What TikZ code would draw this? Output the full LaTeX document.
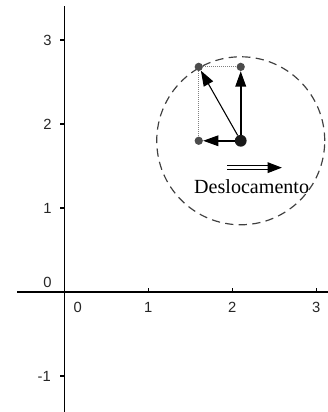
\documentclass[tikz,border=0pt]{standalone}
\usepackage{fontspec}
\setmainfont{Liberation Serif}
\setsansfont{Liberation Sans}
\usetikzlibrary{arrows.meta,positioning,calc}

\begin{document}
\begin{tikzpicture}[
    x=2.5cm, y=2.5cm,
    axis/.style={line width=1pt, black},
    tick/.style={font=\sffamily\fontsize{12.5}{14}\selectfont, inner sep=0pt, text=black!85},
    bigdot/.style={circle, fill=black!90, inner sep=0pt, minimum size=10pt},
    dot/.style={circle, fill=black!70, inner sep=0pt, minimum size=7pt},
    vec/.style={-{Triangle[length=13pt,width=9pt]}, line width=1.3pt},
    aux/.style={densely dotted, gray, line width=0.7pt},
    label/.style={font=\fontsize{17}{19}\selectfont, inner sep=0pt}
]
\useasboundingbox (-0.766,-1.429) rectangle (3.138,3.476);

% Axes
\draw[axis] (-0.56,0) -- (3.14,0);
\draw[axis] (0,-1.43) -- (0,3.40);

% Ticks
\draw[axis] (1,0) -- (1,0.05);
\draw[axis] (2,0) -- (2,0.05);
\draw[axis] (3,0) -- (3,0.05);
\draw[axis] (0,1) -- (-0.05,1);
\draw[axis] (0,2) -- (-0.05,2);
\draw[axis] (0,3) -- (-0.05,3);
\draw[axis] (0,-1) -- (-0.05,-1);

% Tick labels
\node[tick] (x0) at (0.16,-0.18) {0};
\node[tick] (x1) at (1.0,-0.18) {1};
\node[tick] (x2) at (2.0,-0.18) {2};
\node[tick] (x3) at (3.0,-0.18) {3};
\node[tick] (y0) at (-0.2,0.11) {0};
\node[tick] (y1) at (-0.2,1) {1};
\node[tick] (y2) at (-0.2,2) {2};
\node[tick] (y3) at (-0.2,3) {3};
\node[tick] (ym1) at (-0.24,-1) {-1};

% Circle of reach
\draw[dashed, dash pattern=on 7pt off 4.5pt, line width=1pt, black!75] (2.1,1.8) circle (1);

% Points
\node[bigdot] (p) at (2.1,1.8) {};
\node[dot] (left) at (1.6,1.8) {};
\node[dot] (up) at (2.1,2.68) {};
\node[dot] (diag) at (1.6,2.68) {};

% Components
\draw[aux] (diag) -- (up);
\draw[aux] (diag) -- (left);

% Vectors
\draw[vec] (p) -- (left);
\draw[vec] (p) -- (up);
\draw[vec, line width=0.9pt] (p) -- (diag);

% Displacement
\node[label] (desloc) at (2.23,1.25) {Deslocamento};
\coordinate (d0) at (1.94,1.48);
\coordinate (d1) at (2.59,1.48);
\draw[double, double distance=2.4pt, line width=0.9pt, -{Triangle[length=12pt,width=9pt]}] (d0) -- (d1);

\end{tikzpicture}
\end{document}
